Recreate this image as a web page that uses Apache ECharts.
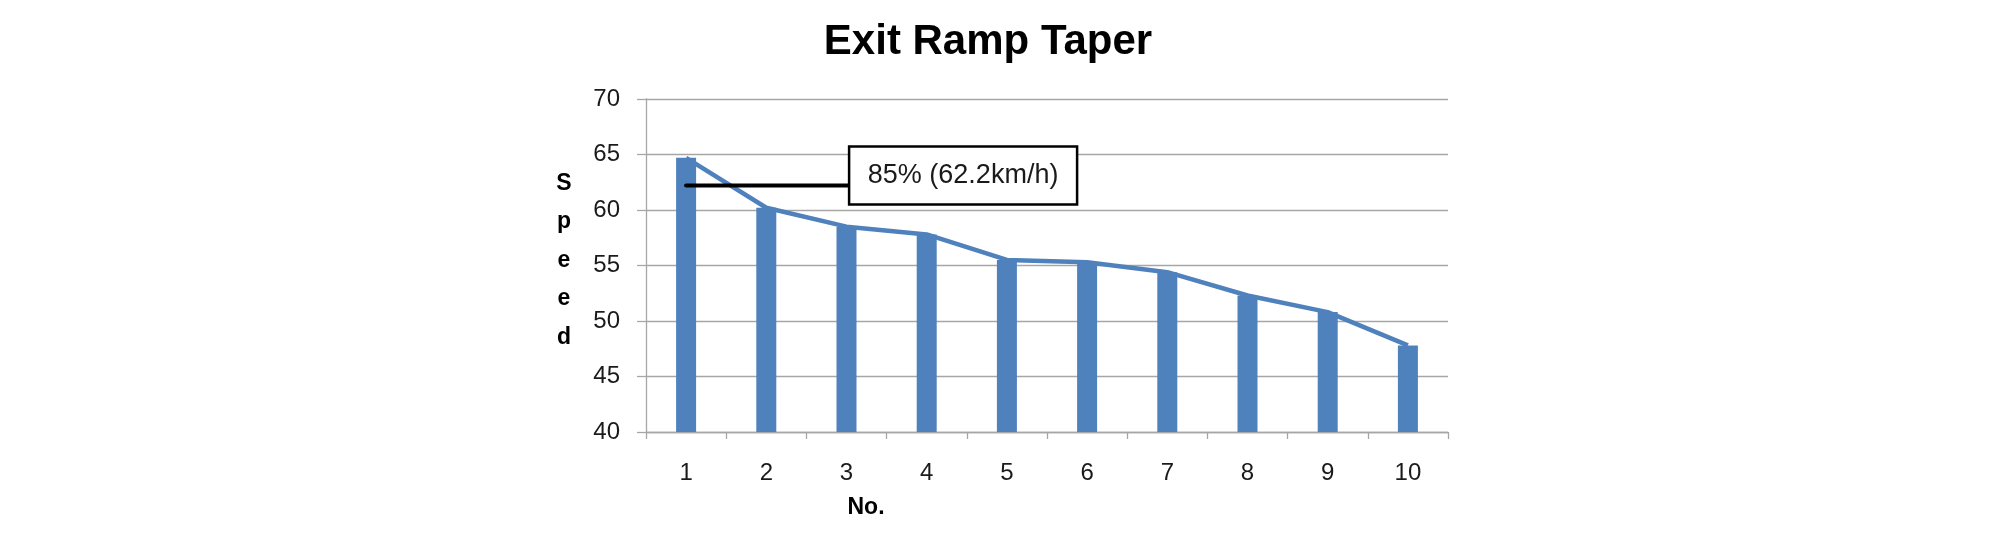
<!DOCTYPE html>
<html>
<head>
<meta charset="utf-8">
<script src="https://cdn.jsdelivr.net/npm/echarts@6/dist/echarts.min.js"></script>
<style>
  html, body { margin: 0; padding: 0; background: #ffffff; }
  #chart { width: 2008px; height: 533px; }
</style>
</head>
<body>
<div id="chart"></div>
<script>
// Exit ramp taper: measured speed per sample, with the 85th-percentile callout
const categories = ['1', '2', '3', '4', '5', '6', '7', '8', '9', '10'];
const speeds = [64.7, 60.2, 58.5, 57.8, 55.5, 55.3, 54.4, 52.3, 50.8, 47.8];
const yMin = 40;
const yMax = 70;
const yStep = 5;
const percentile85 = 62.2;
const calloutText = '85% (62.2km/h)';
const titleText = 'Exit Ramp Taper';
const xName = 'No.';
const yName = 'Speed';

const FONT = "'Liberation Sans', Arial, sans-serif";
const BLUE = '#4F81BD';
const GRID_GRAY = '#A6A6A6';

const chart = echarts.init(document.getElementById('chart'), null, { renderer: 'canvas' });

chart.setOption({
  backgroundColor: '#ffffff',
  animation: false,
  grid: { left: 646, right: 560, top: 99, bottom: 101, containLabel: false },
  xAxis: {
    type: 'category',
    data: categories,
    boundaryGap: true,
    axisLine: { show: true, lineStyle: { color: GRID_GRAY, width: 1.3 } },
    axisTick: { show: true, length: 7, interval: 0, lineStyle: { color: GRID_GRAY, width: 1.3 } },
    axisLabel: { color: '#1a1a1a', fontFamily: FONT, fontSize: 24, margin: 29, interval: 0 },
    splitLine: { show: false }
  },
  yAxis: {
    type: 'value',
    min: yMin,
    max: yMax,
    interval: yStep,
    axisLine: { show: true, lineStyle: { color: GRID_GRAY, width: 1.3 } },
    axisTick: { show: true, length: 9, lineStyle: { color: GRID_GRAY, width: 1.3 } },
    axisLabel: { color: '#1a1a1a', fontFamily: FONT, fontSize: 24, margin: 26 },
    splitLine: { show: true, lineStyle: { color: GRID_GRAY, width: 1.3 } }
  },
  series: [
    {
      type: 'bar',
      data: speeds,
      barWidth: 20,
      itemStyle: { color: BLUE },
      z: 2
    },
    {
      type: 'line',
      data: speeds,
      symbol: 'none',
      lineStyle: { color: BLUE, width: 4.5 },
      z: 3
    }
  ]
});

// Callout: a leader line from the first sample at the 85th-percentile speed to a boxed label
const anchor = chart.convertToPixel({ gridIndex: 0 }, [categories[0], percentile85]);
const ax = anchor[0];
const ay = anchor[1];
const boxLeft = ax + 163;
const boxW = 228;
const boxH = 58;
const boxTop = ay - 39;

const plotTop = chart.convertToPixel({ gridIndex: 0 }, [categories[0], yMax])[1];
const plotBottom = chart.convertToPixel({ gridIndex: 0 }, [categories[0], yMin])[1];

const speedLetters = yName.split('');

chart.setOption({
  graphic: [
    {
      type: 'text',
      style: {
        text: titleText,
        x: 988, y: 42,
        align: 'center', verticalAlign: 'middle',
        fill: '#000000',
        font: "bold 42px 'Liberation Sans', Arial, sans-serif"
      },
      z: 10
    },
    {
      type: 'line',
      shape: { x1: ax, y1: ay, x2: boxLeft, y2: ay },
      style: { stroke: '#000000', lineWidth: 4, lineCap: 'round' },
      z: 20
    },
    {
      type: 'rect',
      shape: { x: boxLeft, y: boxTop, width: boxW, height: boxH },
      style: { fill: '#ffffff', stroke: '#000000', lineWidth: 2.5 },
      z: 21
    },
    {
      type: 'text',
      style: {
        text: calloutText,
        x: boxLeft + boxW / 2, y: boxTop + boxH / 2,
        align: 'center', verticalAlign: 'middle',
        fill: '#1a1a1a',
        font: "27px 'Liberation Sans', Arial, sans-serif"
      },
      z: 22
    },
    {
      type: 'text',
      style: {
        text: xName,
        x: 866, y: 508,
        align: 'center', verticalAlign: 'middle',
        fill: '#000000',
        font: "bold 23px 'Liberation Sans', Arial, sans-serif"
      },
      z: 10
    }
  ].concat(speedLetters.map(function (ch, i) {
    return {
      type: 'text',
      style: {
        text: ch,
        x: 564,
        y: (plotTop + plotBottom) / 2 - 5 + (i - 2) * 38.5,
        align: 'center', verticalAlign: 'middle',
        fill: '#000000',
        font: "bold 23px 'Liberation Sans', Arial, sans-serif"
      },
      z: 10
    };
  }))
});
</script>
</body>
</html>
